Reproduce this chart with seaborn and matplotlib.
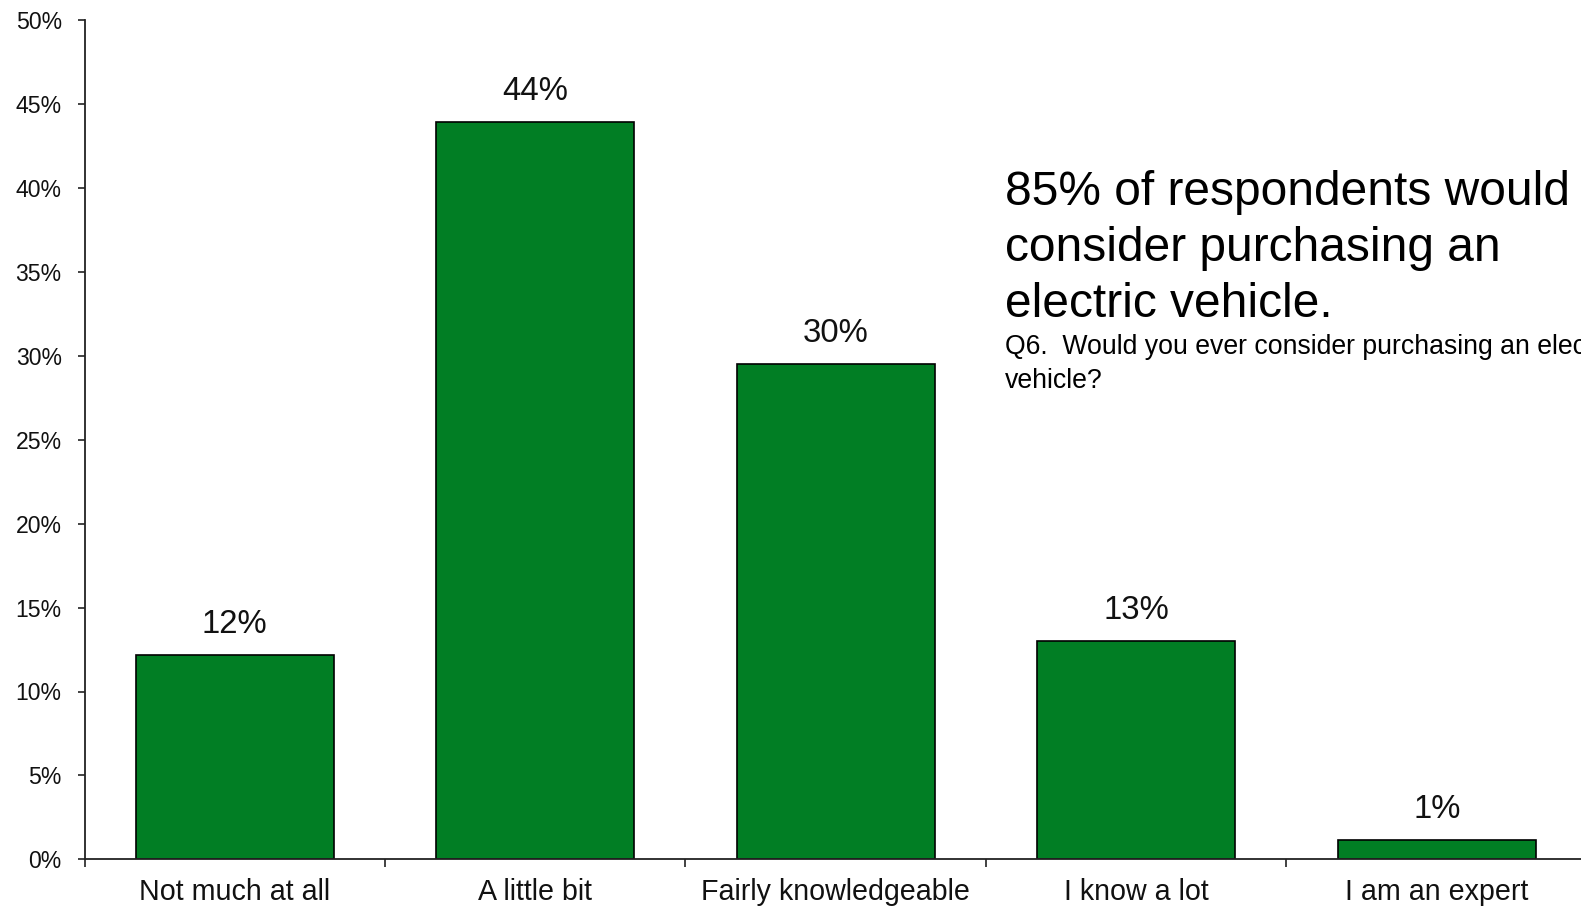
import matplotlib
matplotlib.use("Agg")
import matplotlib.pyplot as plt
import matplotlib.ticker as mticker
import seaborn as sns
import pandas as pd

categories = ["Not much at all", "A little bit", "Fairly knowledgeable", "I know a lot", "I am an expert"]
values = [12.15, 43.95, 29.5, 13.0, 1.15]
value_labels = ["12%", "44%", "30%", "13%", "1%"]
y_ticks = [0, 5, 10, 15, 20, 25, 30, 35, 40, 45, 50]

headline_lines = ["85% of respondents would", "consider purchasing an", "electric vehicle."]
question_lines = ["Q6.  Would you ever consider purchasing an electric", "vehicle?"]

sns.set_theme(style="white")
plt.rcParams["font.family"] = ["Liberation Sans", "DejaVu Sans"]

W, H = 1581, 911
fig = plt.figure(figsize=(W / 100, H / 100), dpi=100)
left_px, right_px, top_px, bottom_px = 84.5, 1587.0, 20.3, 859.3
ax = fig.add_axes([left_px / W, 1 - bottom_px / H, (right_px - left_px) / W, (bottom_px - top_px) / H])

df = pd.DataFrame({"category": categories, "value": values})
sns.barplot(data=df, x="category", y="value", color="#017E24", saturation=1,
            width=0.66, edgecolor="black", linewidth=1.2, ax=ax)

ax.bar_label(ax.containers[0], labels=value_labels, padding=11.0, fontsize=23.7, color="#111111")

ax.set_xlim(-0.5, len(categories) - 0.5)
ax.set_ylim(0, 50)
ax.set_yticks(y_ticks)
ax.yaxis.set_major_formatter(mticker.FuncFormatter(lambda v, p: f"{v:.0f}%"))
ax.set_xlabel("")
ax.set_ylabel("")

for s in ["top", "right"]:
    ax.spines[s].set_visible(False)
for s in ["left", "bottom"]:
    ax.spines[s].set_color("#222222")
    ax.spines[s].set_linewidth(1.3)

ax.tick_params(axis="y", which="major", left=True, length=5.4, width=1.2, color="#222222",
               pad=11, labelsize=16.6, labelcolor="#111111")
ax.tick_params(axis="x", which="major", bottom=True, length=0, pad=13.4, labelsize=20.6,
               labelcolor="#111111")
ax.set_xticks([i - 0.5 for i in range(len(categories) + 1)], minor=True)
ax.tick_params(axis="x", which="minor", bottom=True, length=5.4, width=1.2, color="#222222",
               direction="out")
ax.grid(False)

x0 = 1005 / W
for line, base in zip(headline_lines, [205, 261, 317]):
    fig.text(x0, 1 - base / H, line, fontsize=34.5, va="baseline", ha="left", color="black")
for line, base in zip(question_lines, [354, 388]):
    fig.text(x0, 1 - base / H, line, fontsize=19.2, va="baseline", ha="left", color="black")

fig.savefig("out.png", dpi=100, facecolor="white")
